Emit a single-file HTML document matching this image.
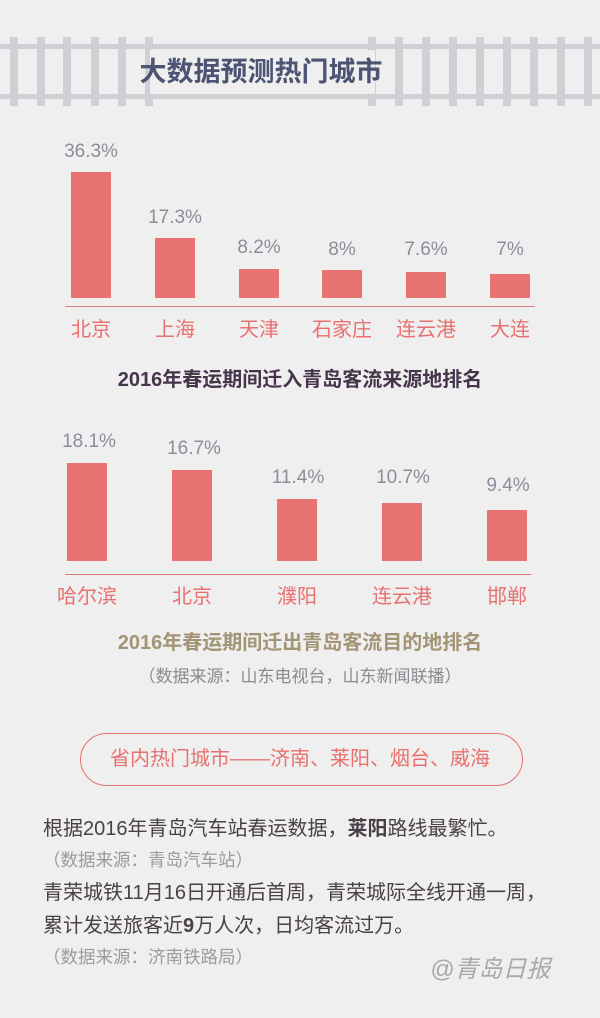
<!DOCTYPE html>
<html><head><meta charset="utf-8"><style>
*{margin:0;padding:0;box-sizing:border-box}
body{width:600px;height:1018px;background:#efefef;position:relative;overflow:hidden;font-family:"Liberation Sans","Noto Sans CJK SC",sans-serif}
.a{position:absolute}
.tie{position:absolute;top:37px;width:8px;height:69px;background:#cfd0d5}
.rail{position:absolute;left:0;width:600px;height:5px;background:#cfd0d5}
.bar{position:absolute;width:40px;background:#e87472}
.pct{position:absolute;width:90px;text-align:center;font-size:19px;color:#8a8e9a;line-height:22px}
.city{position:absolute;width:100px;text-align:center;font-size:20px;color:#e8706f;line-height:24px;white-space:nowrap}
.t{position:absolute;left:0;width:600px;text-align:center;white-space:nowrap}
.p{position:absolute;left:43px;font-size:20px;color:#4a4048;line-height:24px;white-space:nowrap}
.s{position:absolute;left:43px;font-size:17.5px;color:#9a9aa0;line-height:22px;white-space:nowrap}
</style></head><body>
<div class="rail" style="top:44px"></div>
<div class="rail" style="top:94px"></div>
<div class="tie" style="left:10px"></div><div class="tie" style="left:37px"></div><div class="tie" style="left:63px"></div><div class="tie" style="left:91px"></div><div class="tie" style="left:118px"></div><div class="tie" style="left:145px"></div>
<div class="tie" style="left:368px"></div><div class="tie" style="left:395px"></div><div class="tie" style="left:422px"></div><div class="tie" style="left:449px"></div><div class="tie" style="left:476px"></div><div class="tie" style="left:503px"></div><div class="tie" style="left:530px"></div><div class="tie" style="left:557px"></div><div class="tie" style="left:584px"></div>
<div class="a" style="left:150px;top:50px;width:225px;height:44px;background:#efefef"></div>
<div class="a" style="left:126px;top:54px;width:270px;text-align:center;font-size:27px;font-weight:bold;color:#4c5373;line-height:36px;white-space:nowrap">大数据预测热门城市</div>

<!-- chart 1 -->
<div class="bar" style="left:71px;top:172px;height:126px"></div>
<div class="bar" style="left:155px;top:238px;height:60px"></div>
<div class="bar" style="left:239px;top:269px;height:29px"></div>
<div class="bar" style="left:322px;top:270px;height:28px"></div>
<div class="bar" style="left:406px;top:272px;height:26px"></div>
<div class="bar" style="left:490px;top:274px;height:24px"></div>
<div class="pct" style="left:46px;top:141px">36.3%</div>
<div class="pct" style="left:130px;top:207px">17.3%</div>
<div class="pct" style="left:214px;top:237px">8.2%</div>
<div class="pct" style="left:297px;top:239px">8%</div>
<div class="pct" style="left:381px;top:239px">7.6%</div>
<div class="pct" style="left:465px;top:239px">7%</div>
<div class="a" style="left:65px;top:306px;width:470px;height:1px;background:#d88080"></div>
<div class="city" style="left:41px;top:318px">北京</div>
<div class="city" style="left:125px;top:318px">上海</div>
<div class="city" style="left:209px;top:318px">天津</div>
<div class="city" style="left:292px;top:318px">石家庄</div>
<div class="city" style="left:376px;top:318px">连云港</div>
<div class="city" style="left:460px;top:318px">大连</div>
<div class="t" style="top:367px;font-size:20px;font-weight:bold;color:#45344a;line-height:26px">2016年春运期间迁入青岛客流来源地排名</div>

<!-- chart 2 -->
<div class="bar" style="left:67px;top:463px;height:98px"></div>
<div class="bar" style="left:172px;top:470px;height:91px"></div>
<div class="bar" style="left:277px;top:499px;height:62px"></div>
<div class="bar" style="left:382px;top:503px;height:58px"></div>
<div class="bar" style="left:487px;top:510px;height:51px"></div>
<div class="pct" style="left:44px;top:431px">18.1%</div>
<div class="pct" style="left:149px;top:438px">16.7%</div>
<div class="pct" style="left:253px;top:467px">11.4%</div>
<div class="pct" style="left:358px;top:467px">10.7%</div>
<div class="pct" style="left:463px;top:475px">9.4%</div>
<div class="a" style="left:65px;top:574px;width:466px;height:1px;background:#e07878"></div>
<div class="city" style="left:37px;top:585px">哈尔滨</div>
<div class="city" style="left:142px;top:585px">北京</div>
<div class="city" style="left:247px;top:585px">濮阳</div>
<div class="city" style="left:352px;top:585px">连云港</div>
<div class="city" style="left:457px;top:585px">邯郸</div>
<div class="t" style="top:630px;font-size:20px;font-weight:bold;color:#a39476;line-height:26px">2016年春运期间迁出青岛客流目的地排名</div>
<div class="t" style="top:666px;font-size:17px;color:#8a8a90;line-height:22px">（数据来源：山东电视台，山东新闻联播）</div>

<div class="a" style="left:80px;top:733px;width:443px;height:53px;border:1.5px solid #e8706f;border-radius:27px"></div>
<div class="t" style="top:747px;font-size:20px;color:#e8706f;line-height:24px">省内热门城市——济南、莱阳、烟台、威海</div>

<div class="p" style="top:817px">根据2016年青岛汽车站春运数据，<b>莱阳</b>路线最繁忙。</div>
<div class="s" style="top:849px">（数据来源：青岛汽车站）</div>
<div class="p" style="top:881px">青荣城铁11月16日开通后首周，青荣城际全线开通一周，</div>
<div class="p" style="top:914px">累计发送旅客近<b>9</b>万人次，日均客流过万。</div>
<div class="s" style="top:946px">（数据来源：济南铁路局）</div>
<div class="a" style="left:430px;top:955px;font-size:24px;color:#a8a8ae;font-style:italic;line-height:30px">@青岛日报</div>
</body></html>
